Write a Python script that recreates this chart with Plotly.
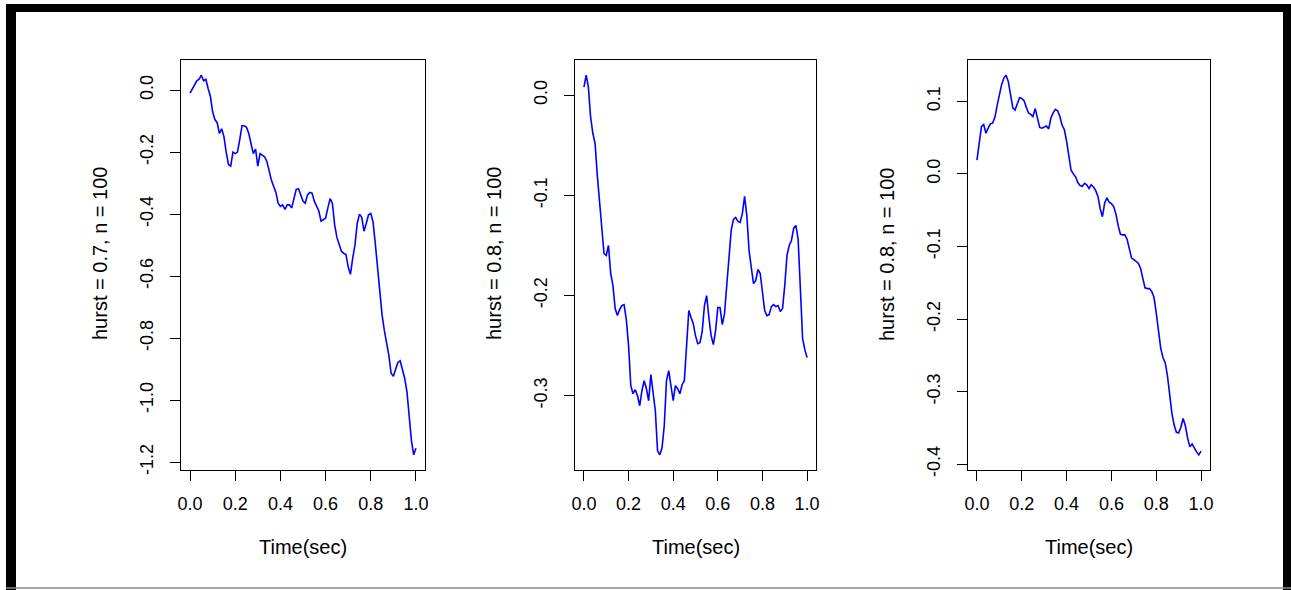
import numpy as np
import plotly.graph_objects as go

# ---------------- data ----------------
time_sec = np.round(np.arange(101) / 100.0, 2)

series_h07 = [
    -0.010, 0.005, 0.020, 0.030, 0.035, 0.048, 0.030, 0.035, 0.005, -0.020,
    -0.070, -0.095, -0.105, -0.140, -0.125, -0.150, -0.200, -0.240, -0.245, -0.200,
    -0.205, -0.200, -0.160, -0.115, -0.115, -0.120, -0.140, -0.170, -0.205, -0.190,
    -0.245, -0.205, -0.210, -0.215, -0.230, -0.265, -0.290, -0.310, -0.330, -0.365,
    -0.375, -0.370, -0.385, -0.370, -0.370, -0.380, -0.348, -0.320, -0.318, -0.338,
    -0.358, -0.365, -0.338, -0.330, -0.332, -0.358, -0.375, -0.390, -0.423, -0.418,
    -0.413, -0.380, -0.350, -0.365, -0.434, -0.475, -0.500, -0.520, -0.526, -0.530,
    -0.570, -0.594, -0.542, -0.500, -0.430, -0.400, -0.410, -0.455, -0.430, -0.402,
    -0.398, -0.425, -0.495, -0.580, -0.665, -0.725, -0.775, -0.810, -0.855, -0.913,
    -0.923, -0.900, -0.878, -0.873, -0.897, -0.929, -0.972, -1.060, -1.130, -1.176,
    -1.155,
]

series_h08a = [
    0.008, 0.020, 0.008, -0.022, -0.038, -0.048, -0.080, -0.105, -0.125, -0.158,
    -0.160, -0.150, -0.178, -0.190, -0.213, -0.220, -0.214, -0.210, -0.209, -0.224,
    -0.250, -0.290, -0.298, -0.294, -0.300, -0.310, -0.295, -0.285, -0.293, -0.305,
    -0.279, -0.299, -0.315, -0.355, -0.359, -0.352, -0.330, -0.285, -0.275, -0.290,
    -0.305, -0.290, -0.293, -0.298, -0.289, -0.285, -0.255, -0.215, -0.222, -0.228,
    -0.240, -0.248, -0.247, -0.236, -0.210, -0.200, -0.222, -0.240, -0.249, -0.235,
    -0.212, -0.212, -0.229, -0.218, -0.190, -0.162, -0.135, -0.124, -0.122, -0.126,
    -0.127, -0.118, -0.101, -0.120, -0.155, -0.172, -0.188, -0.185, -0.174, -0.178,
    -0.200, -0.215, -0.220, -0.219, -0.211, -0.209, -0.211, -0.210, -0.216, -0.213,
    -0.190, -0.160, -0.150, -0.145, -0.133, -0.130, -0.144, -0.200, -0.243, -0.254,
    -0.262,
]

series_h08b = [
    0.019, 0.045, 0.065, 0.068, 0.056, 0.063, 0.069, 0.070, 0.078, 0.094,
    0.110, 0.123, 0.132, 0.136, 0.127, 0.106, 0.091, 0.088, 0.098, 0.105,
    0.104, 0.101, 0.092, 0.084, 0.082, 0.079, 0.090, 0.077, 0.064, 0.063,
    0.065, 0.066, 0.062, 0.077, 0.084, 0.089, 0.087, 0.079, 0.067, 0.061,
    0.045, 0.022, 0.005, 0.000, -0.004, -0.012, -0.016, -0.017, -0.013, -0.015,
    -0.020, -0.015, -0.018, -0.023, -0.031, -0.048, -0.059, -0.040, -0.033, -0.039,
    -0.041, -0.045, -0.055, -0.071, -0.083, -0.084, -0.084, -0.090, -0.105, -0.116,
    -0.118, -0.120, -0.123, -0.130, -0.143, -0.157, -0.158, -0.158, -0.162, -0.170,
    -0.191, -0.216, -0.240, -0.253, -0.260, -0.278, -0.308, -0.330, -0.346, -0.356,
    -0.357, -0.349, -0.337, -0.347, -0.364, -0.376, -0.372, -0.378, -0.383, -0.387,
    -0.382,
]

y_titles = ["hurst = 0.7, n = 100", "hurst = 0.8, n = 100", "hurst = 0.8, n = 100"]
x_title = "Time(sec)"

x_tickvals = [0.0, 0.2, 0.4, 0.6, 0.8, 1.0]
x_ticktext = ["0.0", "0.2", "0.4", "0.6", "0.8", "1.0"]

y_tickvals = [
    [0.0, -0.2, -0.4, -0.6, -0.8, -1.0, -1.2],
    [0.0, -0.1, -0.2, -0.3],
    [0.1, 0.0, -0.1, -0.2, -0.3, -0.4],
]
y_ticktext = [
    ["0.0", "-0.2", "-0.4", "-0.6", "-0.8", "-1.0", "-1.2"],
    ["0.0", "-0.1", "-0.2", "-0.3"],
    ["0.1", "0.0", "-0.1", "-0.2", "-0.3", "-0.4"],
]

# ---------------- layout geometry (pixels) ----------------
W, H = 1291, 590
boxes_x = [(181, 425), (575, 816), (968, 1210)]
box_y = (60, 470)
FONT = "Liberation Sans, Arial, sans-serif"
FS_TICK = 18
FS_TITLE = 20


def px_x(p):
    return p / W


def px_y(p):
    return 1 - p / H


def r_range(vals, pad=0.04):
    lo, hi = min(vals), max(vals)
    d = hi - lo
    return [lo - pad * d, hi + pad * d]


fig = go.Figure()
all_series = [series_h07, series_h08a, series_h08b]
layout_axes = {}
annotations = []

for i, ser in enumerate(all_series):
    k = "" if i == 0 else str(i + 1)
    fig.add_trace(go.Scatter(
        x=time_sec, y=ser, mode="lines",
        line=dict(color="#0000FF", width=1.6),
        xaxis="x" + k, yaxis="y" + k, showlegend=False, hoverinfo="skip",
    ))
    x0, x1 = boxes_x[i]
    layout_axes["xaxis" + k] = dict(
        domain=[px_x(x0), px_x(x1)], anchor="y" + k,
        range=r_range(list(time_sec)), tickvals=x_tickvals, ticktext=x_ticktext,
        showgrid=False, zeroline=False, showline=True, mirror=True,
        linecolor="black", linewidth=1, ticks="outside", ticklen=10,
        tickwidth=1, tickcolor="black", ticklabelstandoff=7,
        tickfont=dict(family=FONT, size=FS_TICK, color="black"), automargin=False,
    )
    layout_axes["yaxis" + k] = dict(
        domain=[px_y(box_y[1]), px_y(box_y[0])], anchor="x" + k,
        range=r_range(ser), tickvals=y_tickvals[i], ticktext=y_ticktext[i],
        showgrid=False, zeroline=False, showline=True, mirror=True,
        linecolor="black", linewidth=1, ticks="outside", ticklen=10,
        tickwidth=1, tickcolor="black", tickangle=-90, ticklabelstandoff=10,
        tickfont=dict(family=FONT, size=FS_TICK, color="black"), automargin=False,
    )
    annotations.append(dict(
        text=x_title, xref="paper", yref="paper",
        x=px_x((x0 + x1) / 2), y=px_y(547), xanchor="center", yanchor="middle",
        showarrow=False, font=dict(family=FONT, size=FS_TITLE, color="black"),
    ))
    annotations.append(dict(
        text=y_titles[i], xref="paper", yref="paper",
        x=px_x(x0 - 81), y=px_y(254), xanchor="center", yanchor="middle",
        textangle=-90, showarrow=False,
        font=dict(family=FONT, size=FS_TITLE, color="black"),
    ))

# black frame around the figure
frame = [
    (6, 4, W, 12),      # top band
    (6, 4, 16, H),      # left band
    (1283, 4, W, H),    # right band
]
shapes = [
    dict(type="rect", xref="paper", yref="paper",
         x0=px_x(a), x1=px_x(c), y0=px_y(d), y1=px_y(b),
         fillcolor="black", line=dict(width=0), layer="above")
    for a, b, c, d in frame
]
shapes.append(dict(type="line", xref="paper", yref="paper",
                   x0=px_x(6), x1=1, y0=px_y(588), y1=px_y(588),
                   line=dict(color="#888888", width=1.5)))

fig.update_layout(
    width=W, height=H, margin=dict(l=0, r=0, t=0, b=0),
    paper_bgcolor="white", plot_bgcolor="white",
    annotations=annotations, shapes=shapes, showlegend=False,
    **layout_axes,
)

fig.write_html("out.html")
